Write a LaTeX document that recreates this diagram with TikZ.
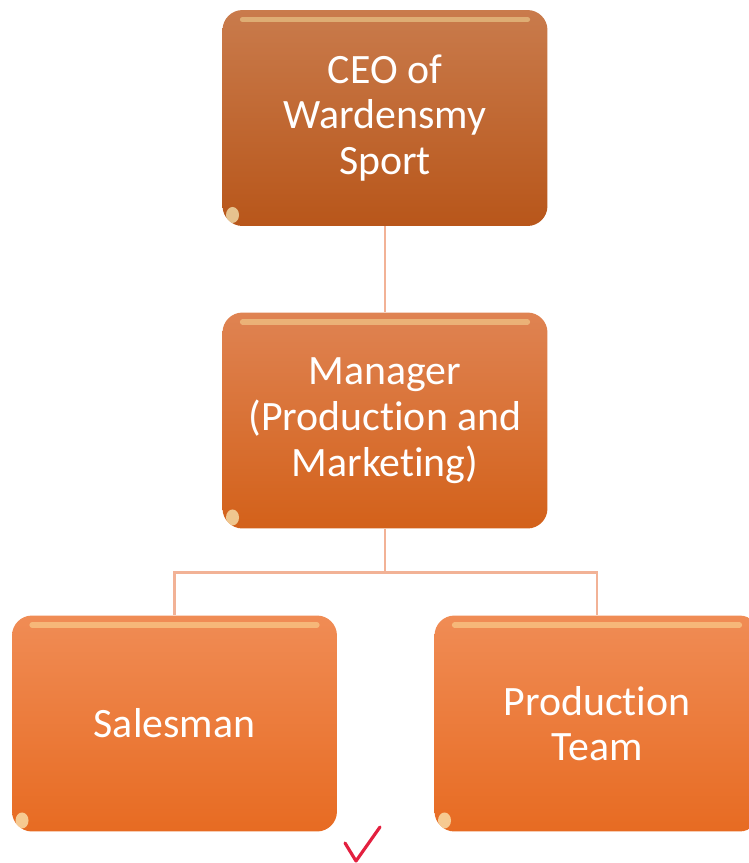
\documentclass[tikz,border=0pt]{standalone}
\usepackage{fontspec}
\setmainfont[Ligatures=NoCommon]{Carlito}
\usetikzlibrary{calc}

\definecolor{ceotop}{HTML}{C97B4C}
\definecolor{ceobot}{HTML}{B8561A}
\definecolor{midtop}{HTML}{DF8352}
\definecolor{midbot}{HTML}{D3611A}
\definecolor{stafftop}{HTML}{F08C55}
\definecolor{staffbot}{HTML}{E76B22}
\definecolor{linkcol}{HTML}{F2B296}
\definecolor{tickred}{HTML}{E3203F}

\tikzset{
	orgbox/.style={rounded corners=0.4cm, minimum width=6.5cm, minimum height=4.32cm,
		text=white, align=center, font=\fontsize{23.8}{26}\selectfont,
		path picture={
			% glossy strip along the top and a small shine in the lower left corner
			\draw[white!70!yellow, opacity=0.4, line width=3pt, line cap=round]
				($(path picture bounding box.north west)+(0.4cm,-0.19cm)$) --
				($(path picture bounding box.north east)+(-0.4cm,-0.19cm)$);
			\fill[white!80!yellow, opacity=0.65]
				($(path picture bounding box.south west)+(0.2cm,0.22cm)$) ellipse (0.13cm and 0.16cm);
		}},
	ceobox/.style={orgbox, top color=ceotop, bottom color=ceobot},
	midbox/.style={orgbox, top color=midtop, bottom color=midbot},
	staffbox/.style={orgbox, top color=stafftop, bottom color=staffbot},
	link/.style={draw=linkcol, line width=1.7pt},
	tick/.style={draw=tickred, line width=1.8pt, line cap=round, line join=round}
}

\begin{document}
\begin{tikzpicture}[x=0.02cm, y=-0.02cm]
	%%%%% FRAME %%%%%
	\useasboundingbox (0, 0) rectangle (748, 863);
	
	%%%%% BOXES %%%%%
	\node[ceobox] (ceo) at (385, 118) {CEO of\\Wardensmy\\Sport};
	\node[midbox] (manager) at (385, 420.5) {Manager\\(Production and\\Marketing)};
	\node[staffbox] (salesman) at (174.5, 723.5) {Salesman};
	\node[staffbox] (prodteam) at (597, 723.5) {Production\\Team};
	
	%%%%% LINKS %%%%%
	\coordinate (split) at (385, 572);
	\draw[link] (ceo) -- (manager);
	\draw[link] (manager) -- (split);
	\draw[link] (split) -| (salesman.north);
	\draw[link] (split) -| (prodteam.north);
	
	%%%%% TICK %%%%%
	\draw[tick] (345, 843) -- (356, 861) -- (380, 827);
\end{tikzpicture}
\end{document}
